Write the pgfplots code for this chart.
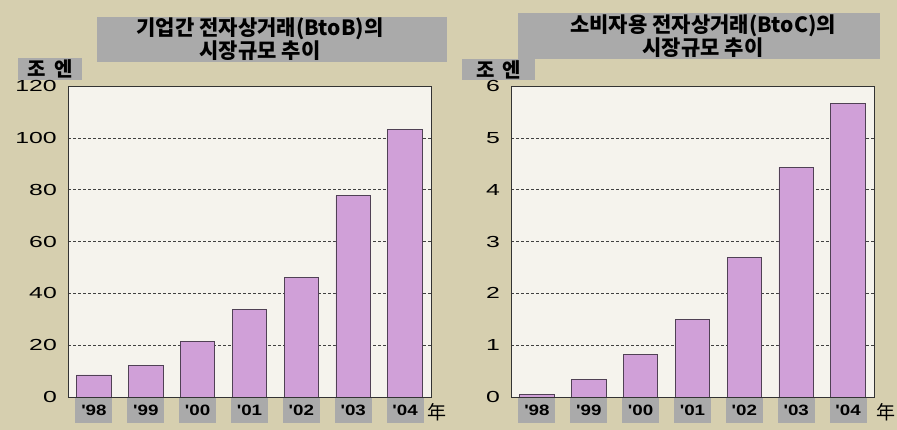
\documentclass[border=0pt]{standalone}
\usepackage{fontspec}
\usepackage{pgfplots}
\pgfplotsset{compat=1.18}
\setmainfont{Liberation Sans}
\newfontfamily\kr{Noto Sans CJK KR}
\newfontfamily\num[FakeStretch=1.55]{Liberation Sans}
\newfontfamily\numb[FakeStretch=1.25]{Liberation Sans}
\definecolor{bg}{RGB}{214,207,175}
\definecolor{panel}{RGB}{245,243,237}
\definecolor{barc}{RGB}{208,160,216}
\definecolor{barline}{RGB}{80,65,85}
\definecolor{tbox}{RGB}{170,170,170}
\pgfplotsset{
  mybar/.style={
    scale only axis, width=363pt, height=311pt, anchor=south west,
    xmin=-0.5, xmax=6.5, ymin=0,
    axis background/.style={fill=panel},
    ybar, bar width=34.5pt,
    xtick={0,...,6},
    xticklabels={'98,'99,'00,'01,'02,'03,'04},
    major tick length=0pt,
    ymajorgrids, grid style={densely dashed, black!75, line width=0.6pt},
    axis line style={line width=0.9pt, black!80},
    /pgf/number format/assume math mode=true,
    yticklabel style={font=\num\fontsize{16}{16}\selectfont, anchor=east, inner sep=0pt, xshift=-11pt},
    xticklabel style={font=\numb\bfseries\fontsize{15}{15}\selectfont, fill=tbox, minimum width=37pt, minimum height=25pt, inner sep=0pt, anchor=north, yshift=-1pt},
  }
}
\begin{document}
\begin{tikzpicture}
\fill[bg] (0,0) rectangle (897pt,430pt);
\useasboundingbox (0,0) rectangle (897pt,430pt);
% titles
\fill[tbox] (97pt,413pt) rectangle (447pt,368pt);
\node[align=center, font=\kr\bfseries\fontsize{21}{23}\selectfont] at (260pt,390.5pt) {기업간\hspace{5pt}전자상거래(BtoB)의\\시장규모\hspace{5pt}추이};
\fill[tbox] (518pt,417pt) rectangle (880pt,371pt);
\node[align=center, font=\kr\bfseries\fontsize{21}{23}\selectfont] at (703pt,394pt) {소비자용\hspace{5pt}전자상거래(BtoC)의\\시장규모\hspace{5pt}추이};
\fill[tbox] (18pt,372pt) rectangle (82pt,350pt);
\node[font=\kr\bfseries\fontsize{20}{20}\selectfont] at (50pt,361pt) {조\hspace{8pt}엔};
\fill[tbox] (462pt,371pt) rectangle (535pt,350pt);
\node[font=\kr\bfseries\fontsize{20}{20}\selectfont] at (498.5pt,360.5pt) {조\hspace{8pt}엔};
% left
\begin{axis}[mybar, at={(68pt,33pt)}, ymax=120, ytick={0,20,...,120}]
\addplot[fill=barc, draw=barline, line width=0.8pt] coordinates {(0,8.5) (1,12.1) (2,21.5) (3,33.8) (4,46.1) (5,77.6) (6,103.1)};
\end{axis}
% right
\begin{axis}[mybar, at={(511pt,33pt)}, ymax=6, ytick={0,1,...,6}]
\addplot[fill=barc, draw=barline, line width=0.8pt] coordinates {(0,0.05) (1,0.33) (2,0.82) (3,1.49) (4,2.70) (5,4.43) (6,5.66)};
\end{axis}
\node[font=\kr\fontsize{19}{19}\selectfont] at (437pt,18pt) {年};
\node[font=\kr\fontsize{19}{19}\selectfont] at (886pt,18pt) {年};
\end{tikzpicture}
\end{document}
